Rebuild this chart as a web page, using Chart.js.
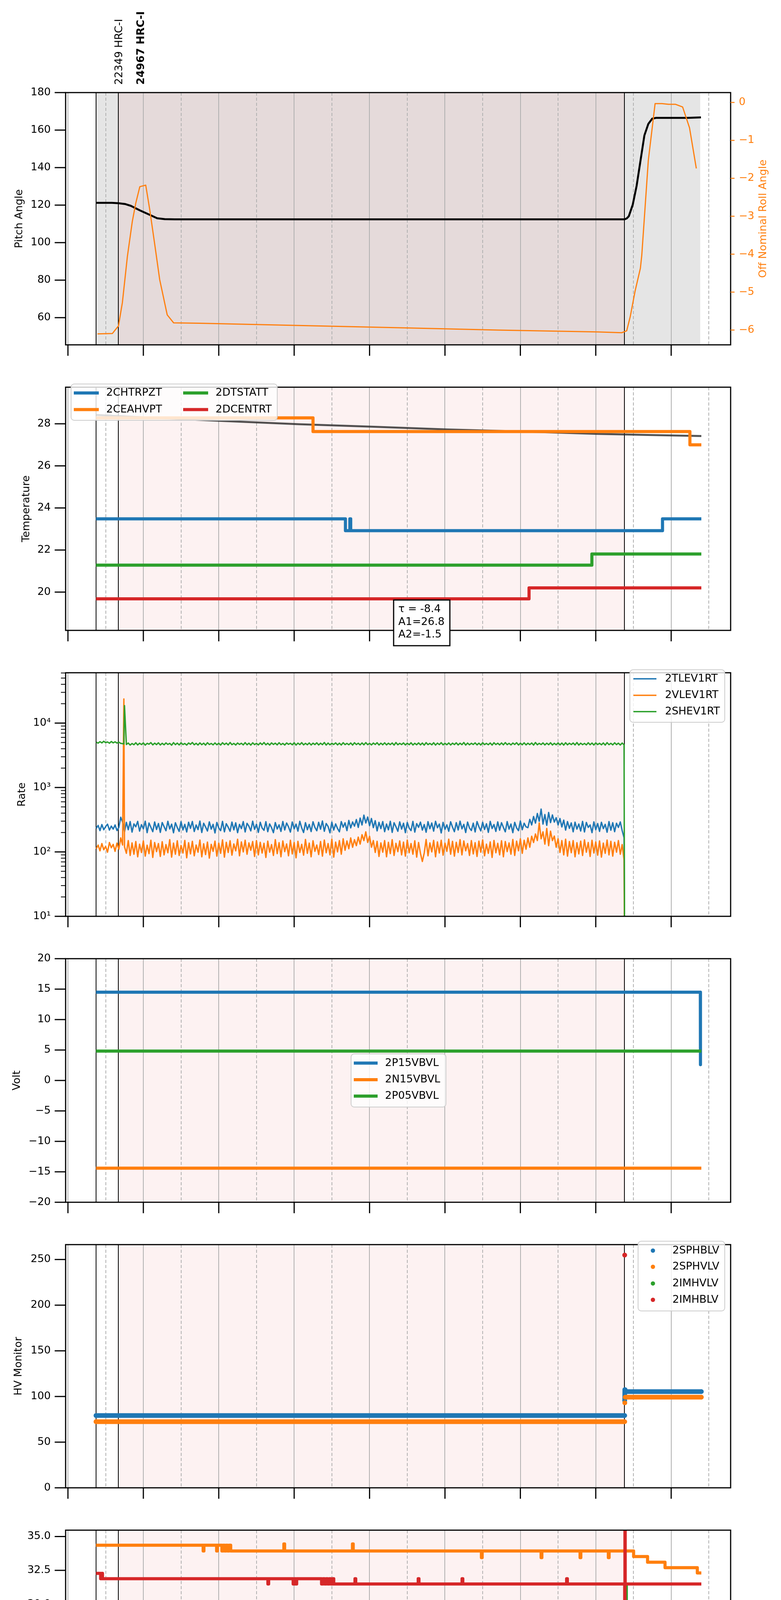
<!DOCTYPE html>
<html><head><meta charset="utf-8">
<script src="https://cdn.jsdelivr.net/npm/chart.js@4/dist/chart.umd.min.js"></script>
<style>
html,body{margin:0;padding:0;background:#fff;}
#wrap{position:relative;width:2000px;height:5400px;overflow:hidden;}
canvas{position:absolute;left:0;}
</style></head><body><div id="wrap"></div>
<script>
// ---------------- time axis (minutes after 08:00 on 2021-02-25) ----------------
const xTickMinutes = [0,30,60,90,120,150,180,210,240,270,300,330,360,390,420,450,480,510];
const xTickLabels = ['08h','30','09h','30','10h','30','11h','30','12h','30','13h','30','14h','30','15h','30','16h','30'];
const xAxisTitle = '2021-02-25 (056)';
const X_MIN = -1.86, X_MAX = 527.3;
const obsLineTimes = [22.5, 40.2, 442.9];
const pinkSpan = [40.2, 442.9];
const graySpan = [22.5, 503.1];
const obsLabelTimes = [40.9, 58.3];
const obsLabelTexts = ['22349 HRC-I', '24967 HRC-I'];
const obsLabelBold = [false, true];

// ---------------- panel 1: pitch / roll ----------------
const pitchTicks = [60,80,100,120,140,160,180];
const rollTicks = [0,-1,-2,-3,-4,-5,-6];
const pitchTime = [22.7,35.0,40.2,45.3,50.1,57.2,65.1,71.0,77.0,85.0,442.9,444.6,446.3,449.4,452.5,455.6,458.7,461.8,464.9,468.0,492.9,503.7];
const pitchVal  = [121.2,121.2,121.0,120.6,119.6,117.2,114.8,113.0,112.5,112.4,112.4,112.9,114.1,120.2,130.3,143.8,157.2,163.3,166.1,166.5,166.5,166.8];
const rollTime = [23.5,35.4,40.2,43.3,47.3,51.2,54.0,57.2,61.9,65.1,69.1,73.0,79.0,84.1,104.7,183.9,263.2,342.4,421.6,440.6,444.6,447.4,451.3,455.5,456.6,461.8,467.2,472.7,477.9,483.5,489.1,494.6,500.0];
const rollVal  = [-6.10,-6.09,-5.89,-5.28,-4.06,-3.14,-2.65,-2.22,-2.18,-2.83,-3.75,-4.67,-5.60,-5.81,-5.82,-5.88,-5.94,-6.00,-6.05,-6.07,-6.02,-5.65,-4.97,-4.37,-4.03,-1.53,-0.03,-0.03,-0.05,-0.05,-0.12,-0.67,-1.74];

// ---------------- panel 2: temperature ----------------
const tempTicks = [20,22,24,26,28];
const tempNames = ['2CHTRPZT','2CEAHVPT','2DTSTATT','2DCENTRT'];
const chtrpztTime = [22.3,220.8,224.3,225.0,473.1,504.0];
const chtrpztVal  = [23.48,22.92,23.48,22.92,23.48,23.48];
const ceahvptTime = [22.3,195.0,494.9,504.0];
const ceahvptVal  = [28.28,27.63,27.0,27.0];
const dtstattTime = [22.3,416.9,504.0];
const dtstattVal  = [21.28,21.81,21.81];
const dcentrtTime = [22.3,366.9,504.0];
const dcentrtVal  = [19.68,20.2,20.2];
const fitTime = [22.7,65.1,116.6,183.9,243.4,302.8,362.2,421.6,461.2,504.0];
const fitVal  = [28.42,28.29,28.15,27.98,27.86,27.73,27.63,27.52,27.47,27.42];
const fitText = ['\u03c4 = -8.4','A1=26.8','A2=-1.5'];

// ---------------- panel 3: rates (log) ----------------
const rateMajorTicks = [10,100,1000,10000];
const rateTickLabels = ['10\u00b9','10\u00b2','10\u00b3','10\u2074'];
const rateMinorTicks = [20,30,40,50,60,70,80,90,200,300,400,500,600,700,800,900,2000,3000,4000,5000,6000,7000,8000,9000,20000,30000,40000,50000,60000];
const rateNames = ['2TLEV1RT','2VLEV1RT','2SHEV1RT'];
const rateTime = [
22.5,24,25.5,27,28.5,30,31.5,33,34.5,36,
37.5,39,40.5,42,43.5,44.5,45,46.5,48,49.5,
51,52.5,54,55.5,57,58.5,60,61.5,63,64.5,
66,67.5,69,70.5,72,73.5,75,76.5,78,79.5,
81,82.5,84,85.5,87,88.5,90,91.5,93,94.5,
96,97.5,99,100.5,102,103.5,105,106.5,108,109.5,
111,112.5,114,115.5,117,118.5,120,121.5,123,124.5,
126,127.5,129,130.5,132,133.5,135,136.5,138,139.5,
141,142.5,144,145.5,147,148.5,150,151.5,153,154.5,
156,157.5,159,160.5,162,163.5,165,166.5,168,169.5,
171,172.5,174,175.5,177,178.5,180,181.5,183,184.5,
186,187.5,189,190.5,192,193.5,195,196.5,198,199.5,
201,202.5,204,205.5,207,208.5,210,211.5,213,214.5,
216,217.5,219,220.5,222,223.5,225,226.5,228,229.5,
231,232.5,234,235.5,237,238.5,240,241.5,243,244.5,
246,247.5,249,250.5,252,253.5,255,256.5,258,259.5,
261,262.5,264,265.5,267,268.5,270,271.5,273,274.5,
276,277.5,279,280.5,282,283.5,285,286.5,288,289.5,
291,292.5,294,295.5,297,298.5,300,301.5,303,304.5,
306,307.5,309,310.5,312,313.5,315,316.5,318,319.5,
321,322.5,324,325.5,327,328.5,330,331.5,333,334.5,
336,337.5,339,340.5,342,343.5,345,346.5,348,349.5,
351,352.5,354,355.5,357,358.5,360,361.5,363,364.5,
366,367.5,369,370.5,372,373.5,375,376.5,378,379.5,
381,382.5,384,385.5,387,388.5,390,391.5,393,394.5,
396,397.5,399,400.5,402,403.5,405,406.5,408,409.5,
411,412.5,414,415.5,417,418.5,420,421.5,423,424.5,
426,427.5,429,430.5,432,433.5,435,436.5,438,439.5,
441,442.5,443];
const tlevVal = [
232,258,214,266,221,247,270,218,252,226,
262,215,240,345,290,236,205,288,221,296,
203,272,246,298,210,265,228,300,199,281,
241,206,292,223,276,201,286,247,213,299,
227,270,198,284,239,208,295,219,268,204,
289,232,297,207,262,222,301,200,279,244,
211,293,226,268,197,287,236,214,298,205,
274,242,209,291,220,283,199,267,230,296,
204,278,250,212,300,224,269,201,289,235,
216,295,206,272,238,199,286,227,263,208,
297,219,281,245,203,292,228,270,210,299,
236,200,285,221,267,207,294,240,213,288,
225,302,209,276,248,198,290,218,272,231,
205,296,242,283,214,308,236,292,251,318,
240,335,262,372,281,348,255,330,238,305,
212,288,230,296,206,271,220,299,201,284,
246,209,293,226,279,199,287,235,214,298,
203,275,241,290,218,266,202,295,229,281,
210,299,237,271,197,288,224,263,209,294,
243,206,285,219,300,228,268,200,291,235,
215,280,204,296,246,212,289,223,273,201,
298,231,266,208,293,217,284,240,205,296,
226,271,199,288,236,214,302,221,279,245,
238,320,262,355,280,395,300,462,270,380,
258,410,285,375,290,340,262,330,244,312,
218,296,232,282,205,290,226,271,211,298,
204,287,240,262,199,293,221,276,208,289,
230,268,202,296,217,284,206,279,240,292,
214,166,1];
const vlevVal = [
112,128,104,135,108,122,99,140,116,131,
102,137,110,165,128,23700,120,95,150,88,
138,92,145,84,132,98,148,86,127,94,
152,82,140,101,135,85,144,90,130,97,
155,83,137,92,149,88,126,96,151,81,
139,93,146,87,128,99,153,84,134,91,
142,80,131,102,147,86,137,95,154,83,
141,98,149,89,133,104,157,87,143,100,
152,92,138,106,145,85,150,90,141,96,
136,82,147,99,130,88,155,94,139,84,
148,101,133,87,152,93,140,81,146,98,
131,89,156,95,137,84,149,102,128,91,
145,86,153,97,135,90,158,83,142,100,
150,92,160,106,148,112,165,118,155,125,
170,132,185,150,205,140,175,118,150,98,
146,85,138,99,150,84,141,94,155,88,
136,101,148,90,142,86,153,97,135,92,
149,83,140,95,71,96,156,87,138,100,
151,84,143,96,152,89,137,102,158,92,
146,86,141,98,155,90,148,104,135,88,
150,93,139,85,147,99,154,87,132,95,
143,82,151,97,136,90,149,84,145,101,
138,92,156,88,147,104,160,95,152,110,
165,118,175,140,190,150,282,160,205,132,
232,125,210,150,176,118,160,98,150,90,
158,86,145,97,150,84,139,93,147,88,
154,99,140,85,152,96,143,89,148,83,
137,95,153,90,146,86,141,99,150,92,
130,75,1];
const shevVal = [
5050,4880,5150,4920,5220,4950,5100,4870,5180,4930,
5120,4900,5060,4850,4800,4750,18700,4650,4900,4560,
4820,4610,4950,4580,4870,4640,4920,4550,4850,4700,
4980,4590,4880,4630,4940,4570,4860,4600,4930,4660,
4840,4540,4970,4620,4890,4580,4950,4640,4820,4560,
4910,4680,4990,4600,4850,4570,4930,4620,4880,4550,
4960,4650,4830,4590,4920,4610,4870,4560,4950,4640,
4890,4580,5000,4620,4840,4570,4910,4660,4860,4590,
4970,4610,4880,4550,4940,4630,4850,4580,4920,4640,
4990,4600,4870,4560,4930,4650,4880,4590,4960,4620,
4840,4570,4910,4680,4860,4600,4950,4560,4890,4630,
4970,4590,4850,4610,4920,4570,4880,4640,4940,4580,
4870,4620,4990,4560,4900,4600,4860,4650,4930,4590,
4880,4570,4960,4630,4840,4610,4910,4560,4950,4640,
4870,4590,4920,4600,4980,4620,4850,4580,4900,4650,
4960,4570,4880,4610,4940,4590,4870,4630,4910,4560,
4990,4600,4850,4640,4920,4580,4880,4620,4950,4570,
4860,4610,4930,4590,4900,4550,4970,4630,4840,4600,
4950,4560,4890,4630,4970,4590,4850,4610,4920,4570,
4880,4640,4940,4580,4870,4620,4990,4560,4900,4600,
4860,4650,4930,4590,4880,4570,4960,4630,4840,4610,
4910,4560,4950,4640,4870,4590,4920,4600,4980,4620,
4850,4580,4900,4650,4960,4570,4880,4610,4940,4590,
4870,4630,4910,4560,4990,4600,4850,4640,4920,4580,
4880,4620,4950,4570,4860,4610,4930,4590,4900,4550,
4960,4600,4870,4640,4910,4580,4990,4560,4880,4620,
4840,4590,4950,4610,4900,4570,4930,4640,4860,4600,
4920,4560,4970,4620,4850,4590,4940,4630,4880,4570,
4900,4610,1];

// ---------------- panel 4: voltages ----------------
const voltTicks = [-20,-15,-10,-5,0,5,10,15,20];
const voltNames = ['2P15VBVL','2N15VBVL','2P05VBVL'];
const p15Time = [22.3,503.2,503.3];
const p15Val  = [14.49,14.49,2.6];
const n15Time = [22.3,504.0];
const n15Val  = [-14.4,-14.4];
const p05Time = [22.3,504.0];
const p05Val  = [4.83,4.83];

// ---------------- panel 5: HV monitor ----------------
const hvTicks = [0,50,100,150,200,250];
const hvNames = ['2SPHBLV','2SPHVLV','2IMHVLV','2IMHBLV'];
const sphblvTime = [22.3,443.0,443.0,443.0,443.1,443.4,504.0];
const sphblvVal  = [79.1,79.1,null,95.4,107.5,105.4,105.4];
const sphvlvTime = [22.3,443.0,443.0,443.1,443.1,443.4,504.0];
const sphvlvVal  = [72.4,72.4,null,93.1,null,99.3,99.3];
const imhvlvTime = [];
const imhvlvVal  = [];
const imhblvTime = [443.0];
const imhblvVal  = [254.8];

// ---------------- panel 6: detector temps ----------------
const detTicks = [17.5,20,22.5,25,27.5,30,32.5,35];
const detNames = ['2SPINATM','2SPHVATM','2IMINATM','2IMHVATM'];
const spinatmTime = [22.3,261.2,262.5,263.5,264.8,266.0,267.2,268.5,269.6,271.0,272.0,273.0,276.6,277.4,504.0];
const spinatmVal  = [18.93,19.6,18.93,19.6,18.93,19.6,18.93,19.6,18.93,19.6,18.93,19.6,18.93,19.6,19.6];
const sphvatmTime = [22.3,107.6,108.2,118.3,118.9,122.5,123.5,124.7,125.8,127.0,128.2,129.5,171.8,172.4,226.4,227.0,329.0,329.6,376.5,377.1,407.5,408.1,430.0,430.6,450.1,461.2,475.1,500.8,504.0];
const sphvatmVal  = [34.36,33.93,34.36,33.93,34.36,33.93,34.36,33.93,34.36,33.93,34.36,33.93,34.45,33.93,34.45,33.93,33.44,33.93,33.44,33.93,33.44,33.93,33.44,33.93,33.52,33.1,32.7,32.31,32.31];
const iminatmTime = [22.3,237.4,238.6,239.8,241.0,242.3,243.5,244.8,246.0,247.3,248.4,249.3,443.8,444.3,504.0];
const iminatmVal  = [20.29,20.98,20.29,20.98,20.29,20.98,20.29,20.98,20.29,20.98,20.29,20.98,31.4,20.98,20.98];
const imhvatmTime = [22.3,26.0,26.8,27.5,159.1,159.7,179.2,180.2,181.2,182.0,201.8,203.0,204.2,205.5,206.6,208.0,209.2,210.5,211.5,228.4,229.0,278.7,279.3,313.6,314.2,396.8,397.4,443.0,443.2,443.4,504.0];
const imhvatmVal  = [32.28,31.88,32.28,31.88,31.49,31.88,31.49,31.88,31.49,31.88,31.49,31.88,31.49,31.88,31.49,31.88,31.49,31.88,31.49,31.88,31.49,31.88,31.49,31.88,31.49,31.88,31.49,10,40,31.49,31.49];

// ---------------- panel 7: FEA temps ----------------
const feaTicks = [19,20,21,22,23,24,25,26,27];
const feaNames = ['2FHTRMZT','2FRADPYT','2FEPRATM','2FE00ATM'];
const fhtrmztTime = [22.3,218.0,424.8,504.0];
const fhtrmztVal  = [24.05,24.63,25.21,25.21];
const fradpytTime = [22.3,58.8,94.4,335.7,504.0];
const fradpytVal  = [20.2,19.68,20.2,20.73,20.73];
const fepratmTime = [22.3,81.4,82.6,83.6,84.8,85.8,87.0,88.0,89.2,90.2,91.4,92.4,93.6,94.6,95.8,96.8,98.0,99.0,100.2,101.2,102.4,103.4,104.6,105.6,106.8,107.8,109.0,110.0,111.2,112.2,113.4,114.4,115.6,116.6,117.8,120.6,122.0,123.2,125.3,504.0];
const fepratmVal  = [26.18,25.36,26.18,25.36,26.18,25.36,26.18,25.36,26.18,25.36,26.18,25.36,26.18,25.36,26.18,25.36,26.18,25.36,26.18,25.36,26.18,25.36,26.18,25.36,26.18,25.36,26.18,25.36,26.18,25.36,26.18,25.36,26.18,25.36,26.18,25.36,26.18,25.36,26.18,26.18];
const fe00atmTime = [
22.3,36.4,36.9,41.0,41.8,42.6,43.5,44.5,45.5,46.6,
47.5,51.8,52.4,61.1,66.9,67.5,77.2,77.8,78.4,81.9,
82.5,101.7,102.3,104.9,105.5,106.1,123.9,124.5,129.5,130.1,
139.0,139.6,152.1,152.7,156.0,156.5,157.1,158.2,159.3,160.4,
161.5,162.6,163.7,164.8,165.9,167.0,168.1,169.1,169.7,170.8,
171.9,173.0,173.8,174.4,194.0,194.6,200.4,201.0,205.9,206.5,
214.2,214.8,236.8,237.4,244.3,244.9,247.9,248.5,261.8,262.4,
292.7,293.3,302.2,302.8,306.1,306.7,323.6,324.2,346.3,347.5,
348.7,350.0,351.2,352.5,353.6,356.8,357.4,364.0,364.6,367.6,
368.2,382.6,383.2,385.8,386.4,414.7,415.3,430.1,430.7,435.6,
436.2,440.7,441.3,443.0,443.2,443.4,487.0,504.0];
const fe00atmVal = [
23.96,23.59,23.96,23.59,23.96,23.59,23.96,23.59,23.96,23.59,
23.96,22.94,23.96,23.59,23.96,23.59,23.27,23.96,23.59,23.96,
23.59,24.32,23.59,24.99,23.27,23.59,24.65,23.59,23.96,23.59,
23.96,23.59,23.96,23.59,23.96,22.63,23.96,23.59,23.96,23.59,
23.96,23.59,23.96,23.59,23.96,23.59,23.96,24.99,23.59,23.96,
23.59,23.96,22.94,23.96,23.59,23.96,23.27,23.96,23.59,23.96,
23.59,23.96,23.59,23.96,24.32,23.96,23.27,23.96,23.59,23.96,
24.65,23.96,24.32,23.96,23.59,23.96,24.32,23.96,24.28,23.96,
24.28,23.96,24.28,23.96,24.28,23.96,24.28,23.96,24.28,25.32,
24.28,24.99,24.28,24.65,24.28,24.65,24.28,24.65,24.28,24.65,
24.28,24.99,24.28,15,30,24.28,24.62,24.62];

// ---------------- layout / style ----------------
const C = {blue:'#1f77b4', orange:'#ff7f0e', green:'#2ca02c', red:'#d62728'};
const PANEL_TOPS = [237, 969, 1700, 2432, 3164, 3895, 4627];
const PANEL_H = 666;
const FONT = '"DejaVu Sans", sans-serif';
Chart.defaults.font.family = FONT;
Chart.defaults.font.size = 27;
Chart.defaults.color = '#000';

const wrap = document.getElementById('wrap');
const pts = (ts, vs) => ts.map((t, i) => ({x: t, y: vs[i]}));
function ds(label, ts, vs, color, width, extra) {
  return Object.assign({label, data: pts(ts, vs), borderColor: color, backgroundColor: color,
    borderWidth: width, pointRadius: 0, pointHoverRadius: 0, fill: false, tension: 0, clip: 0,
    spanGaps: false, borderJoinStyle: 'round', borderCapStyle: 'butt'}, extra || {});
}
function fmt(v, digits) {
  const s = digits != null ? Math.abs(v).toFixed(digits) : String(Math.abs(v));
  return v < 0 ? '\u2212' + s : s;
}
function rrect(ctx, x, y, w, h, r) {
  ctx.beginPath();
  ctx.moveTo(x + r, y); ctx.lineTo(x + w - r, y); ctx.arcTo(x + w, y, x + w, y + r, r);
  ctx.lineTo(x + w, y + h - r); ctx.arcTo(x + w, y + h, x + w - r, y + h, r);
  ctx.lineTo(x + r, y + h); ctx.arcTo(x, y + h, x, y + h - r, r);
  ctx.lineTo(x, y + r); ctx.arcTo(x, y, x + r, y, r); ctx.closePath();
}
function line(ctx, x0, y0, x1, y1) { ctx.beginPath(); ctx.moveTo(x0, y0); ctx.lineTo(x1, y1); ctx.stroke(); }

const decor = {
  id: 'decor',
  beforeDatasetsDraw(chart, args, o) {
    const {ctx, chartArea: a} = chart;
    const xs = chart.scales.x;
    const X = v => xs.getPixelForValue(v);
    ctx.save();
    ctx.beginPath(); ctx.rect(a.left, a.top, a.right - a.left, a.bottom - a.top); ctx.clip();
    if (o.gray) {
      ctx.fillStyle = '#e5e5e5';
      ctx.fillRect(X(graySpan[0]), a.top, X(graySpan[1]) - X(graySpan[0]), a.bottom - a.top);
    }
    ctx.fillStyle = 'rgba(240,128,128,0.1)';
    ctx.fillRect(X(pinkSpan[0]), a.top, X(pinkSpan[1]) - X(pinkSpan[0]), a.bottom - a.top);
    ctx.strokeStyle = '#b0b0b0'; ctx.lineWidth = 2;
    xTickMinutes.forEach(m => {
      ctx.setLineDash(m % 60 === 0 ? [] : [8, 5]);
      const px = Math.round(X(m));
      line(ctx, px, a.top, px, a.bottom);
    });
    ctx.setLineDash([]);
    ctx.strokeStyle = '#000'; ctx.lineWidth = 2;
    obsLineTimes.forEach(m => { const px = Math.round(X(m)); line(ctx, px, a.top, px, a.bottom); });
    ctx.restore();
  },
  afterDatasetsDraw(chart, args, o) {
    const {ctx, chartArea: a} = chart;
    const off = o.offset;
    ctx.save();
    ctx.strokeStyle = '#000'; ctx.lineWidth = 3;
    ctx.strokeRect(a.left, a.top, a.right - a.left, a.bottom - a.top);
    const xs = chart.scales.x;
    xTickMinutes.forEach(m => {
      if (m % 60) return;
      const px = xs.getPixelForValue(m);
      line(ctx, px, a.bottom, px, a.bottom + 28);
    });
    const ys = chart.scales.y;
    ys.ticks.forEach(t => {
      const py = ys.getPixelForValue(t.value);
      const major = !o.log || rateMajorTicks.indexOf(t.value) >= 0;
      ctx.lineWidth = major ? 3 : 2;
      line(ctx, a.left - (major ? 28 : 12), py, a.left, py);
    });
    if (chart.scales.y2) {
      const y2 = chart.scales.y2;
      ctx.strokeStyle = C.orange; ctx.lineWidth = 2.5;
      y2.ticks.forEach(t => { const py = y2.getPixelForValue(t.value); line(ctx, a.right, py, a.right + 10, py); });
      ctx.fillStyle = C.orange; ctx.font = '27px ' + FONT; ctx.textAlign = 'center'; ctx.textBaseline = 'middle';
      ctx.save(); ctx.translate(1954.5, (a.top + a.bottom) / 2); ctx.rotate(-Math.PI / 2);
      ctx.fillText(o.rightTitle, 0, 0); ctx.restore();
    }
    if (o.obs) {
      ctx.fillStyle = '#000'; ctx.textAlign = 'left'; ctx.textBaseline = 'middle';
      obsLabelTimes.forEach((t, i) => {
        ctx.font = (obsLabelBold[i] ? 'bold ' : '') + '27px ' + FONT;
        ctx.save(); ctx.translate(xs.getPixelForValue(t), 217 - off); ctx.rotate(-Math.PI / 2);
        ctx.fillText(obsLabelTexts[i], 0, 0); ctx.restore();
      });
    }
    if (o.legend) {
      const L = o.legend;
      const [x0, y0, x1, y1] = L.box;
      rrect(ctx, x0, y0 - off, x1 - x0, y1 - y0, 8);
      ctx.fillStyle = 'rgba(255,255,255,0.8)'; ctx.fill();
      ctx.strokeStyle = '#cccccc'; ctx.lineWidth = 2; ctx.stroke();
      L.items.forEach(([name, color, lx0, lx1, tx, y]) => {
        const yy = y - off;
        if (L.kind === 'dot') {
          ctx.fillStyle = color; ctx.beginPath(); ctx.arc(lx0, yy, 5.5, 0, 2 * Math.PI); ctx.fill();
        } else {
          ctx.strokeStyle = color; ctx.lineWidth = L.lw; line(ctx, lx0, yy, lx1, yy);
        }
        ctx.fillStyle = '#000'; ctx.font = '27px ' + FONT; ctx.textAlign = 'left'; ctx.textBaseline = 'middle';
        ctx.fillText(name, tx, yy);
      });
    }
    if (o.fitBox) {
      const [x0, y0, x1, y1] = o.fitBox;
      ctx.fillStyle = '#fff'; ctx.fillRect(x0, y0 - off, x1 - x0, y1 - y0);
      ctx.strokeStyle = '#000'; ctx.lineWidth = 3; ctx.strokeRect(x0, y0 - off, x1 - x0, y1 - y0);
      ctx.fillStyle = '#000'; ctx.font = '27px ' + FONT; ctx.textAlign = 'left'; ctx.textBaseline = 'middle';
      fitText.forEach((s, i) => ctx.fillText(s, 1020, [1560, 1593, 1625][i] - off));
    }
    ctx.restore();
  }
};

function makePanel(i, cfg) {
  const top = PANEL_TOPS[i], bottom = top + PANEL_H;
  const cTop = i === 0 ? 0 : top - 32;
  const cBot = i < 6 ? PANEL_TOPS[i + 1] - 32 : 5400;
  const last = i === 6;
  const canvas = document.createElement('canvas');
  canvas.width = 2000; canvas.height = cBot - cTop;
  canvas.style.top = cTop + 'px'; canvas.style.width = '2000px'; canvas.style.height = (cBot - cTop) + 'px';
  wrap.appendChild(canvas);
  const n = cfg.datasets.length;
  cfg.datasets.forEach((d, k) => { d.order = n - k; });
  const yTicks = cfg.yTicks;
  const scales = {
    x: {
      type: 'linear', min: X_MIN, max: X_MAX, position: 'bottom',
      afterBuildTicks: s => { s.ticks = xTickMinutes.map(v => ({value: v})); },
      afterFit: s => { s.height = last ? (cBot - bottom) : 0; },
      grid: {display: false, drawTicks: false}, border: {display: false},
      ticks: {display: last, autoSkip: false, maxRotation: 0, minRotation: 0, padding: 2, color: '#000',
        callback: (v, idx) => xTickLabels[idx],
        font: c => (c.tick && c.tick.value % 60 === 0) ? {size: 27, lineHeight: 3.33} : {size: 18, lineHeight: 1.2}},
      title: {display: last, text: xAxisTitle, color: '#000', font: {size: 30}, padding: {top: 0, bottom: 0}}
    },
    y: {
      type: cfg.log ? 'logarithmic' : 'linear', position: 'left', min: cfg.yMin, max: cfg.yMax,
      afterBuildTicks: s => { s.ticks = yTicks.map(v => ({value: v})); },
      afterFit: s => { s.width = 168; },
      grid: {display: false, drawTicks: false}, border: {display: false},
      ticks: {padding: 38, color: '#000', font: {size: 27}, autoSkip: false, callback: cfg.yFmt},
      title: {display: true, text: cfg.yTitle, color: '#000', font: {size: 27}, padding: {top: cfg.yTitlePad, bottom: 0}}
    }
  };
  if (cfg.y2) {
    scales.y2 = {
      type: 'linear', position: 'right', min: cfg.y2.min, max: cfg.y2.max,
      afterBuildTicks: s => { s.ticks = cfg.y2.ticks.map(v => ({value: v})); },
      afterFit: s => { s.width = 129; },
      grid: {display: false, drawTicks: false}, border: {display: false},
      ticks: {padding: 21, color: C.orange, font: {size: 27}, autoSkip: false, callback: v => fmt(v)},
      title: {display: false}
    };
  }
  new Chart(canvas, {
    type: 'line',
    data: {datasets: cfg.datasets},
    options: {
      responsive: false, animation: false, devicePixelRatio: 1, events: [],
      layout: {padding: {left: 0, right: cfg.y2 ? 0 : 129, top: top - cTop, bottom: last ? 0 : (cBot - bottom)}},
      plugins: {legend: {display: false}, tooltip: {enabled: false},
        decor: Object.assign({offset: cTop}, cfg.decor || {})},
      scales
    },
    plugins: [decor]
  });
}

// ---------- panel 1 ----------
makePanel(0, {
  yTicks: pitchTicks, yMin: 45.5, yMax: 180, yTitle: 'Pitch Angle', yTitlePad: 34, yFmt: v => fmt(v),
  y2: {ticks: rollTicks, min: -6.39, max: 0.26},
  datasets: [
    ds('Pitch', pitchTime, pitchVal, '#000', 5),
    ds('Roll', rollTime, rollVal, C.orange, 3, {yAxisID: 'y2'})
  ],
  decor: {gray: true, obs: true, rightTitle: 'Off Nominal Roll Angle'}
});

// ---------- panel 2 ----------
makePanel(1, {
  yTicks: tempTicks, yMin: 18.18, yMax: 29.74, yTitle: 'Temperature', yTitlePad: 52, yFmt: v => fmt(v),
  datasets: [
    ds('fit', fitTime, fitVal, 'rgba(40,40,40,0.8)', 5),
    ds(tempNames[0], chtrpztTime, chtrpztVal, C.blue, 8, {stepped: true}),
    ds(tempNames[1], ceahvptTime, ceahvptVal, C.orange, 8, {stepped: true}),
    ds(tempNames[2], dtstattTime, dtstattVal, C.green, 8, {stepped: true}),
    ds(tempNames[3], dcentrtTime, dcentrtVal, C.red, 8, {stepped: true})
  ],
  decor: {
    legend: {box: [182, 983, 710, 1076], kind: 'line', lw: 8, items: [
      [tempNames[0], C.blue, 189, 253, 272, 1006],
      [tempNames[1], C.orange, 189, 253, 272, 1048.6],
      [tempNames[2], C.green, 469, 533, 552, 1006],
      [tempNames[3], C.red, 469, 533, 552, 1048.6]]},
    fitBox: [1008, 1536, 1152, 1653]
  }
});

// ---------- panel 3 ----------
makePanel(2, {
  log: true, yTicks: rateMajorTicks.concat(rateMinorTicks), yMin: 10, yMax: 60500, yTitle: 'Rate', yTitlePad: 41,
  yFmt: v => { const k = rateMajorTicks.indexOf(v); return k >= 0 ? rateTickLabels[k] : ''; },
  datasets: [
    ds(rateNames[0], rateTime, tlevVal, C.blue, 3.5),
    ds(rateNames[1], rateTime, vlevVal, C.orange, 3.5),
    ds(rateNames[2], rateTime, shevVal, C.green, 3.5)
  ],
  decor: {log: true, legend: {box: [1613, 1714.6, 1856, 1849], kind: 'line', lw: 3.5, items: [
    [rateNames[0], C.blue, 1622, 1681, 1703, 1737.7],
    [rateNames[1], C.orange, 1622, 1681, 1703, 1780],
    [rateNames[2], C.green, 1622, 1681, 1703, 1821.8]]}}
});

// ---------- panel 4 ----------
makePanel(3, {
  yTicks: voltTicks, yMin: -20, yMax: 20, yTitle: 'Volt', yTitlePad: 28, yFmt: v => fmt(v),
  datasets: [
    ds(voltNames[0], p15Time, p15Val, C.blue, 8),
    ds(voltNames[1], n15Time, n15Val, C.orange, 8),
    ds(voltNames[2], p05Time, p05Val, C.green, 8)
  ],
  decor: {legend: {box: [899, 2698, 1142, 2834], kind: 'line', lw: 8, items: [
    [voltNames[0], C.blue, 906, 967, 986, 2721.5],
    [voltNames[1], C.orange, 906, 967, 986, 2764],
    [voltNames[2], C.green, 906, 967, 986, 2806]]}}
});

// ---------- panel 5 ----------
const dotOpts = c => ({pointRadius: 6, pointBorderWidth: 0, pointBackgroundColor: c, borderCapStyle: 'round'});
makePanel(4, {
  yTicks: hvTicks, yMin: 0, yMax: 266.3, yTitle: 'HV Monitor', yTitlePad: 32, yFmt: v => fmt(v),
  datasets: [
    ds(hvNames[0], sphblvTime, sphblvVal, C.blue, 12, dotOpts(C.blue)),
    ds(hvNames[1], sphvlvTime, sphvlvVal, C.orange, 12, dotOpts(C.orange)),
    ds(hvNames[2], imhvlvTime, imhvlvVal, C.green, 12, dotOpts(C.green)),
    ds(hvNames[3], imhblvTime, imhblvVal, C.red, 12, dotOpts(C.red))
  ],
  decor: {legend: {box: [1634, 3177.5, 1856, 3356], kind: 'dot', items: [
    [hvNames[0], C.blue, 1672, 0, 1722, 3201.5],
    [hvNames[1], C.orange, 1672, 0, 1722, 3243],
    [hvNames[2], C.green, 1672, 0, 1722, 3285.7],
    [hvNames[3], C.red, 1672, 0, 1722, 3327.5]]}}
});

// ---------- panel 6 ----------
makePanel(5, {
  yTicks: detTicks, yMin: 17.47, yMax: 35.47, yTitle: 'Detector Temp', yTitlePad: 26, yFmt: v => fmt(v, 1),
  datasets: [
    ds(detNames[0], spinatmTime, spinatmVal, C.blue, 8, {stepped: true}),
    ds(detNames[1], sphvatmTime, sphvatmVal, C.orange, 8, {stepped: true}),
    ds(detNames[2], iminatmTime, iminatmVal, C.green, 8, {stepped: true}),
    ds(detNames[3], imhvatmTime, imhvatmVal, C.red, 8, {stepped: true})
  ],
  decor: {legend: {box: [1610, 4141.6, 1856, 4318], kind: 'line', lw: 8, items: [
    [detNames[0], C.blue, 1617, 1679, 1696, 4164],
    [detNames[1], C.orange, 1617, 1679, 1696, 4206.5],
    [detNames[2], C.green, 1617, 1679, 1696, 4248],
    [detNames[3], C.red, 1617, 1679, 1696, 4290.7]]}}
});

// ---------- panel 7 ----------
makePanel(6, {
  yTicks: feaTicks, yMin: 18.71, yMax: 27.69, yTitle: 'FEA Temp', yTitlePad: 50, yFmt: v => fmt(v),
  datasets: [
    ds(feaNames[0], fhtrmztTime, fhtrmztVal, C.blue, 8, {stepped: true}),
    ds(feaNames[1], fradpytTime, fradpytVal, C.orange, 8, {stepped: true}),
    ds(feaNames[2], fepratmTime, fepratmVal, C.green, 8, {stepped: true}),
    ds(feaNames[3], fe00atmTime, fe00atmVal, C.red, 8, {stepped: true})
  ],
  decor: {legend: {box: [1607, 4873, 1856, 5050], kind: 'line', lw: 8, items: [
    [feaNames[0], C.blue, 1615, 1676, 1694, 4896],
    [feaNames[1], C.orange, 1615, 1676, 1694, 4938],
    [feaNames[2], C.green, 1615, 1676, 1694, 4980],
    [feaNames[3], C.red, 1615, 1676, 1694, 5022]]}}
});
</script></body></html>
